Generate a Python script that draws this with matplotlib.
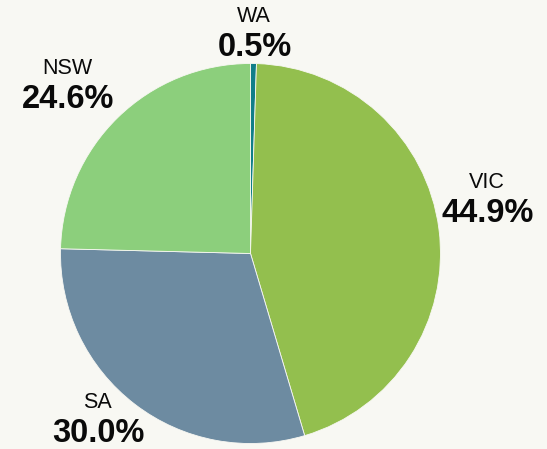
import matplotlib.pyplot as plt

# data
states = ['WA', 'VIC', 'SA', 'NSW']
shares = [0.5, 44.9, 30.0, 24.6]
colors = ['#117e89', '#93bf4e', '#6d8ba1', '#8ccf7c']

bg = '#f8f8f3'
W, H = 547, 449

# label anchor points in pixel coords (name line, percent line centred below)
label_pos = {
    'WA': (254, 32),
    'VIC': (487, 197),
    'SA': (97, 418),
    'NSW': (67, 83),
}

plt.rcParams['font.family'] = ['Liberation Sans', 'DejaVu Sans']

fig = plt.figure(figsize=(W / 100, H / 100), dpi=100, facecolor=bg)
ax = fig.add_axes([0, 0, 1, 1])
ax.set_facecolor(bg)

ax.pie(shares, colors=colors, startangle=90, counterclock=False,
       center=(250.5, H - 253.5), radius=190,
       wedgeprops=dict(edgecolor=bg, linewidth=0.6))

for name, val in zip(states, shares):
    x, y = label_pos[name]
    ax.text(x, H - y + 15, name, ha='center', va='center', fontsize=15.5, color='#0a0a0a')
    ax.text(x + 1, H - y - 16, f'{val:.1f}%', ha='center', va='center', fontsize=23.5,
            fontweight='bold', color='#0a0a0a')

ax.set_xlim(0, W)
ax.set_ylim(0, H)
ax.set_aspect('auto')
ax.axis('off')

fig.savefig('out.png', dpi=100, facecolor=bg)
